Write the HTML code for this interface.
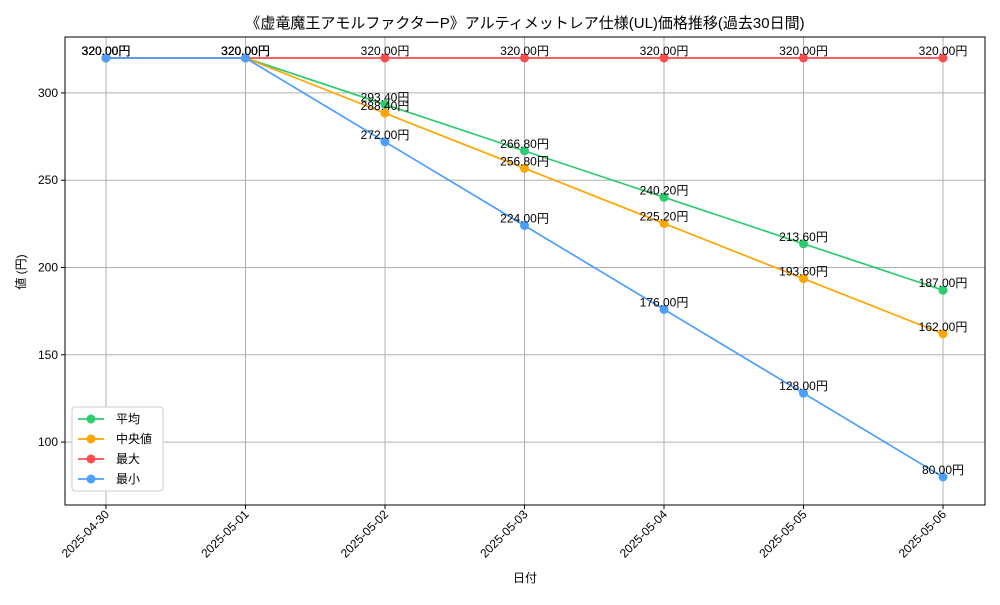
<!DOCTYPE html>
<html><head><meta charset="utf-8"><style>
body{margin:0;background:#fff}
svg text{font-family:"Liberation Sans","Noto Sans CJK JP",sans-serif;fill:#000}
</style></head><body>
<svg id="c" width="1000" height="600" xmlns="http://www.w3.org/2000/svg">
<text x="525" y="28" font-size="15" text-anchor="middle">《虚竜魔王アモルファクターP》アルティメットレア仕様(UL)価格推移(過去30日間)</text>
<g id="grid"></g><g id="series"></g><g id="axes"></g>
<text x="525" y="582" font-size="12" text-anchor="middle">日付</text>
<text x="25" y="272" font-size="12" text-anchor="middle" transform="rotate(-90 25 272)">値 (円)</text>
<g id="legend"></g>
</svg>
<script>
const dates=["2025-04-30","2025-05-01","2025-05-02","2025-05-03","2025-05-04","2025-05-05","2025-05-06"];
const avgVals=[320,320,293.4,266.8,240.2,213.6,187];
const medVals=[320,320,288.4,256.8,225.2,193.6,162];
const maxVals=[320,320,320,320,320,320,320];
const minVals=[320,320,272,224,176,128,80];
const yTicks=[100,150,200,250,300];
const seriesNames=["平均","中央値","最大","最小"];
const colors=["#2ecc71","#ffa500","#ff4d4d","#4d9fff"];
const NS="http://www.w3.org/2000/svg";
const L=65,R=985,T=37,B=505;
const x=i=>106+i*139.5;
const y=v=>58+(320-v)*(477-58)/240;
function mk(t,a,p){const e=document.createElementNS(NS,t);for(const k in a)e.setAttribute(k,a[k]);p.appendChild(e);return e;}
const grid=document.getElementById('grid'),axes=document.getElementById('axes'),ser=document.getElementById('series'),leg=document.getElementById('legend');
dates.forEach((d,i)=>{
 const g=mk('line',{x1:x(i),x2:x(i),y1:T,y2:B,stroke:'#b0b0b0','stroke-width':1},grid);
 
 
 mk('line',{x1:x(i),x2:x(i),y1:B,y2:B+4,stroke:'#000'},axes);
 const t=mk('text',{x:x(i)+4,y:B+10,'font-size':12,'text-anchor':'end',transform:`rotate(-45 ${x(i)+4} ${B+10})`},axes);
 t.textContent=d;
 
 
});
yTicks.forEach(v=>{
 const g=mk('line',{x1:L,x2:R,y1:y(v),y2:y(v),stroke:'#b0b0b0','stroke-width':1},grid);
 
 
 mk('line',{x1:L-4,x2:L,y1:y(v),y2:y(v),stroke:'#000'},axes);
 const t=mk('text',{x:L-7,y:y(v)+4,'font-size':12,'text-anchor':'end'},axes);
 t.textContent=v;
 
 
});
const fr=mk('rect',{x:L,y:T,width:R-L,height:B-T,fill:'none',stroke:'#000','stroke-width':1},axes);


[avgVals,medVals,maxVals,minVals].forEach((vals,s)=>{
 const g=mk('g',{},ser);
 
 
 mk('polyline',{points:vals.map((v,i)=>x(i)+','+y(v)).join(' '),fill:'none',stroke:colors[s],'stroke-width':1.7},g);
 vals.forEach((v,i)=>{
  const c=mk('circle',{cx:x(i),cy:y(v),r:4.5,fill:colors[s]},g);
  
  
  const t=mk('text',{x:x(i),y:y(v)-3,'font-size':12,'text-anchor':'middle'},g);
  t.textContent=v.toFixed(2)+'円';
  
  
 });
});
const lb=mk('rect',{x:72,y:407,width:91,height:84,fill:'#fff',stroke:'#ccc',rx:3},leg);


seriesNames.forEach((n,s)=>{
 const yy=419+s*20;
 const g=mk('g',{},leg);
 
 
 mk('line',{x1:78,x2:104,y1:yy,y2:yy,stroke:colors[s],'stroke-width':1.7},g);
 mk('circle',{cx:91,cy:yy,r:4.5,fill:colors[s]},g);
 const t=mk('text',{x:116,y:yy+4,'font-size':12},g);
 t.textContent=n;
});
</script>
</body></html>
